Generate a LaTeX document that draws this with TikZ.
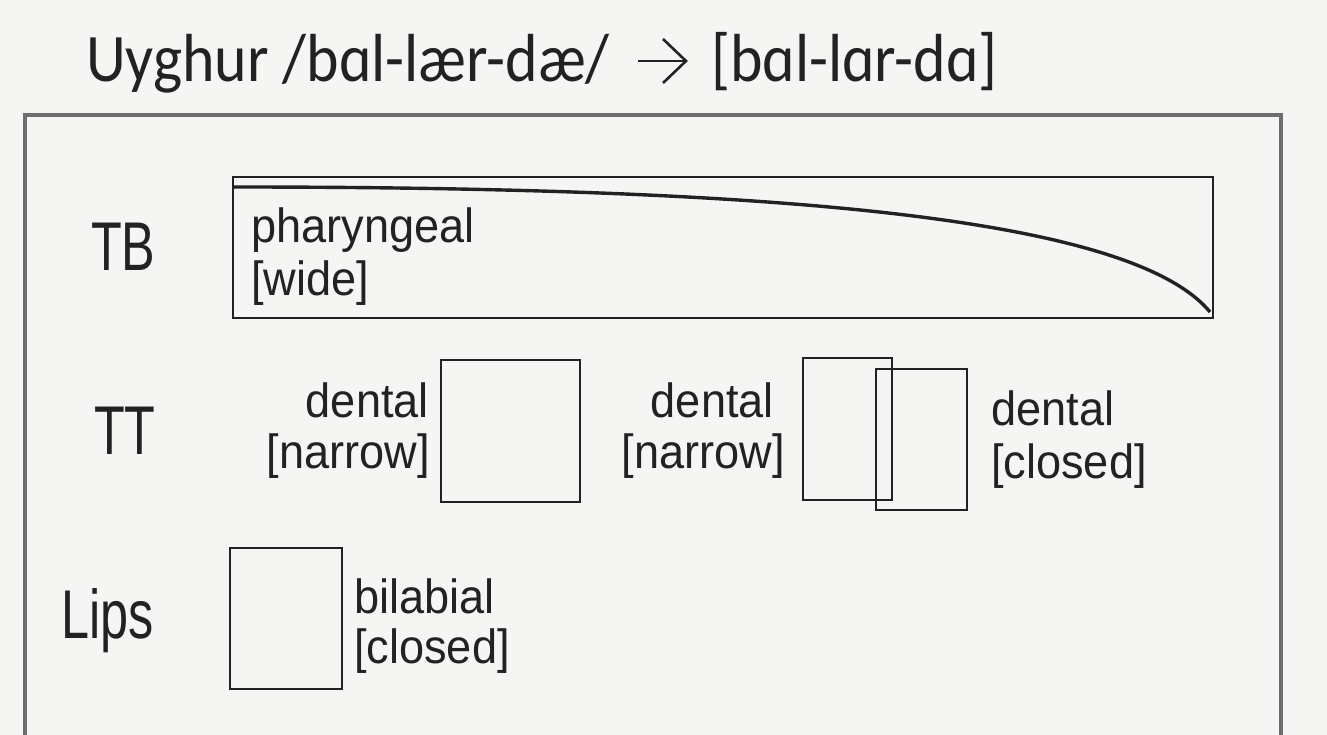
\documentclass[tikz,border=0pt]{standalone}
\usepackage{fontspec}
\newfontfamily\titlefont[FakeStretch=0.91]{Carlito}
\newfontfamily\lblfont[FakeStretch=0.94]{Liberation Sans}
\newfontfamily\bigfont[FakeStretch=0.73]{Liberation Sans}
\definecolor{bg}{HTML}{F5F5F4}
\definecolor{framec}{HTML}{6E6E6E}
\definecolor{inkc}{HTML}{222222}
\tikzset{
  ttl/.style={font=\titlefont\fontsize{68}{72}\selectfont, inner sep=0pt, text=inkc, anchor=base west},
  lbl/.style={font=\lblfont\fontsize{48}{52}\selectfont, inner sep=0pt, text=inkc},
  tier/.style={font=\bigfont\fontsize{69}{72}\selectfont, inner sep=0pt, text=inkc},
  gbox/.style={draw=inkc, line width=2pt, inner sep=0pt, anchor=north west},
}
\begin{document}
\begin{tikzpicture}[x=1pt,y=-1pt]
\useasboundingbox (0,0) rectangle (1327,735);
\fill[bg] (0,0) rectangle (1327,735);
% title
\node[ttl] (titleL) at (86,82) {Uyghur /bɑl-lær-dæ/};
\node[ttl] (titleR) at (711,82) {[bɑl-lɑr-dɑ]};
\coordinate (arrS) at (638,61);
\coordinate (arrE) at (686,61);
\draw[inkc, line width=2.6pt] (arrS) -- (arrE);
\draw[inkc, line width=2.6pt, line join=miter] ([shift={(-23,-22)}]arrE) -- (arrE) -- ([shift={(-23,22)}]arrE);
% frame
\draw[framec, line width=3.5pt] (25,735) -- (25,115) -- (1281,115) -- (1281,735);
% tier labels
\node[tier, anchor=base west] (TB) at (91,271) {TB};
\node[tier, anchor=base west] (TT) at (94,454) {TT};
\node[tier, anchor=base west] (Lips) at (61,638) {Lips};
% TB gesture
\node[gbox, minimum width=980pt, minimum height=141pt] (tbbox) at (232,176) {};
\coordinate (cS) at (234,187);
\coordinate (cE) at (1210,312);
\draw[inkc, line width=3.4pt] (cS) .. controls (760,187) and (1130,215) .. (cE);
\node[lbl, anchor=base west] (phar) at (251,243) {pharyngeal};
\node[lbl, anchor=base west] (wide) at (251,295) {[wide]};
% TT gestures
\node[gbox, minimum width=139pt, minimum height=142pt] (ttA) at (440,359) {};
\node[lbl, anchor=base east] (dA) at (429,417) {dental};
\node[lbl, anchor=base east] (nA) at (430,468) {[narrow]};
\node[gbox, minimum width=89pt, minimum height=142pt] (ttB) at (802,357) {};
\node[lbl, anchor=base east] (dB) at (774,417) {dental};
\node[lbl, anchor=base east] (nB) at (785,468) {[narrow]};
\node[gbox, minimum width=91pt, minimum height=141pt] (ttC) at (875,368) {};
\node[lbl, anchor=base west] (dC) at (991,425) {dental};
\node[lbl, anchor=base west] (cC) at (991,478) {[closed]};
% Lips gesture
\node[gbox, minimum width=112pt, minimum height=141pt] (lipbox) at (229,547) {};
\node[lbl, anchor=base west] (bil) at (354,613) {bilabial};
\node[lbl, anchor=base west] (cl) at (354,663) {[closed]};
\end{tikzpicture}
\end{document}
